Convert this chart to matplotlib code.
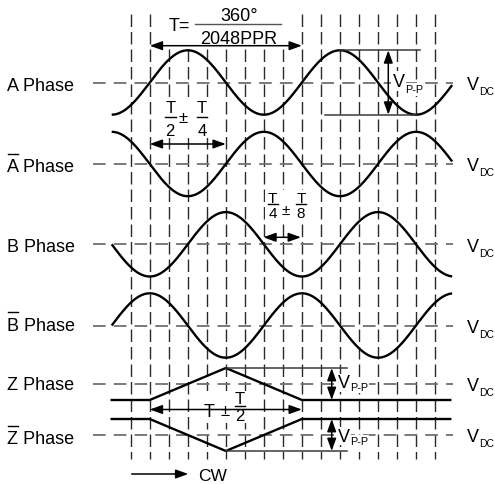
import numpy as np
import matplotlib
matplotlib.use("Agg")
import matplotlib.pyplot as plt
from matplotlib.patches import Rectangle

plt.rcParams['font.family'] = ['Liberation Sans', 'DejaVu Sans']

# ---------------- data ----------------
phase_letters = ["A", "A", "B", "B", "Z", "Z"]
phase_overbar = [False, True, False, True, False, True]
sine_phase_deg = [-90, 90, 180, 0]          # A, A-bar, B, B-bar : sin(2*pi*u/period + phase)
period_steps = 8                            # one period = 8 grid steps (T/8 each)
sine_u_range = [0, 17.9]
z_knots = [0, 2, 6, 10, 17.8]
z_levels = [-1, -1, 1, -1, -1]
zbar_levels = [1, 1, -1, 1, 1]
grid_u = list(range(1, 18))

# ---------------- layout (pixels) ----------------
W, H = 495, 485
x0_px, step_px = 111.7, 19.02
row_y = [83.5, 165.0, 245.3, 326.5, 385.0, 436.0]
label_base = [91.0, 172.3, 251.7, 330.7, 390.0, 444.0]
sine_amp = 32.2
z_amp = 16.0


def U(px):
    return (px - x0_px) / step_px


fig = plt.figure(figsize=(W / 100, H / 100), dpi=100)
ax = fig.add_axes([0, 0, 1, 1])
ax.set_xlim(U(0), U(W))
ax.set_ylim(H, 0)
ax.axis('off')

# grid
ax.vlines(grid_u, 15, 460, colors='#2a2a2a', lw=1.0, linestyles=(0, (9, 3.6)), zorder=1)
for y in row_y:
    ax.hlines(y, U(93), U(453), colors='#707070', lw=1.3, linestyles=(0, (7, 4.5)), zorder=1)

# white backgrounds behind annotation text
for (x1, y1, x2, y2) in [(157, 0, 297, 45.5), (162, 99, 210, 139), (265, 191, 309, 221),
                         (198, 392, 251, 424)]:
    ax.add_patch(Rectangle((U(x1), y1), U(x2) - U(x1), y2 - y1, facecolor='white',
                           edgecolor='none', zorder=2))

# sine waveforms
u = np.linspace(sine_u_range[0], sine_u_range[1], 600)
for i, ph in enumerate(sine_phase_deg):
    y = row_y[i] - sine_amp * np.sin(2 * np.pi * u / period_steps + np.deg2rad(ph))
    ax.plot(u, y, color='black', lw=1.7, zorder=3, solid_capstyle='butt')

# Z pulses
ax.plot(z_knots, row_y[4] - z_amp * np.array(z_levels), color='black', lw=1.7, zorder=3)
ax.plot(z_knots, row_y[5] - z_amp * np.array(zbar_levels), color='black', lw=1.7, zorder=3)

# left labels
for i, (lt, bar) in enumerate(zip(phase_letters, phase_overbar)):
    ax.text(U(7.3), label_base[i], f"{lt} Phase", fontsize=13, va='baseline', ha='left', zorder=4)
    if bar:
        ax.plot([U(8.3), U(18.5)], [label_base[i] - 17.5] * 2, color='black', lw=1.0, zorder=4)
    # right V_DC
    ax.text(U(466.5), row_y[i] + 6.5, "V", fontsize=13, va='baseline', ha='left', zorder=4)
    ax.text(U(479), row_y[i] + 11.5, "DC", fontsize=7.5, va='baseline', ha='left', zorder=4)


def arrow(x1, y1, x2, y2, style='<|-|>'):
    ax.annotate('', xy=(x2, y2), xytext=(x1, y1),
                arrowprops=dict(arrowstyle=f'{style},head_length=0.75,head_width=0.27',
                                color='black', lw=1.1, shrinkA=0, shrinkB=0,
                                mutation_scale=10), zorder=5)


def hline(y, px1, px2):
    ax.plot([U(px1), U(px2)], [y, y], color='#3a3a3a', lw=1.1, zorder=3)


# top: T = 360deg / 2048PPR
ax.text(U(168.3), 30.7, "T=", fontsize=13, va='baseline', ha='left', zorder=4)
ax.plot([U(195), U(281)], [25, 25], color='#555555', lw=1.0, zorder=4)
ax.text(U(239), 20.7, "360°", fontsize=13, va='baseline', ha='center', zorder=4)
ax.text(U(239), 44.5, "2048PPR", fontsize=13, va='baseline', ha='center', zorder=4)
arrow(2, 46.7, 10, 46.7)


def frac(xc, y_bar, num, den, fs, half_w, gap_num=2.2, den_base=17.5):
    ax.text(U(xc), y_bar - gap_num, num, fontsize=fs, va='baseline', ha='center', zorder=4)
    ax.plot([U(xc - half_w), U(xc + half_w)], [y_bar, y_bar], color='black', lw=1.0, zorder=4)
    ax.text(U(xc), y_bar + den_base, den, fontsize=fs, va='baseline', ha='center', zorder=4)


# T/2 +- T/4
frac(170.3, 118.3, "T", "2", 12, 5.3, 5.6, 17.7)
ax.text(U(183.5), 118.5, "±", fontsize=12, va='center', ha='center', zorder=4)
frac(201.8, 118.3, "T", "4", 12, 5.3, 5.6, 17.7)
arrow(2, 145, 6, 145)

# T/4 +- T/8
frac(272.5, 205, "T", "4", 11, 5, 1.7, 13.3)
ax.text(U(285.5), 211, "±", fontsize=11, va='center', ha='center', zorder=4)
frac(301, 205, "T", "8", 11, 5, 1.7, 13.3)
arrow(7.97, 238.3, 9.95, 238.3)

# A Vpp
hline(row_y[0] - sine_amp, 340, 420)
hline(row_y[0] + sine_amp, 325, 416)
arrow(U(388.3), row_y[0] - sine_amp, U(388.3), row_y[0] + sine_amp)
ax.text(U(392.5), 86.7, "V", fontsize=13, va='baseline', ha='left', zorder=4,
        bbox=dict(facecolor='white', edgecolor='none', pad=1.0))
ax.text(U(405), 93.3, "P-P", fontsize=7.8, va='baseline', ha='left', zorder=4,
        bbox=dict(facecolor='white', edgecolor='none', pad=1.0))

# Z: T +- T/2
ax.text(U(209), 417, "T", fontsize=13, va='baseline', ha='center', zorder=4)
ax.text(U(225.5), 412, "±", fontsize=12, va='center', ha='center', zorder=4)
frac(240, 407, "T", "2", 12, 5, 3.0, 14.3)
arrow(2, 410.5, 10, 410.5)

# Z Vpp
hline(row_y[4] - z_amp, 225.7, 346.7)
hline(row_y[5] + z_amp, 225.7, 346.7)
arrow(U(331.7), row_y[4] - z_amp, U(331.7), row_y[4] + z_amp)
arrow(U(331.7), row_y[5] - z_amp, U(331.7), row_y[5] + z_amp)
for vb, sb in [(388.3, 391.0), (441.7, 445.0)]:
    ax.text(U(338), vb, "V", fontsize=13, va='baseline', ha='left', zorder=4,
            bbox=dict(facecolor='white', edgecolor='none', pad=0.5))
    ax.text(U(350), sb, "P-P", fontsize=7.8, va='baseline', ha='left', zorder=4,
            bbox=dict(facecolor='white', edgecolor='none', pad=0.5))

# CW
arrow(U(131.7), 475, U(188.3), 475, style='-|>')
ax.text(U(198), 480.7, "CW", fontsize=12.5, va='baseline', ha='left', zorder=4)

fig.savefig("out.png", dpi=100)
